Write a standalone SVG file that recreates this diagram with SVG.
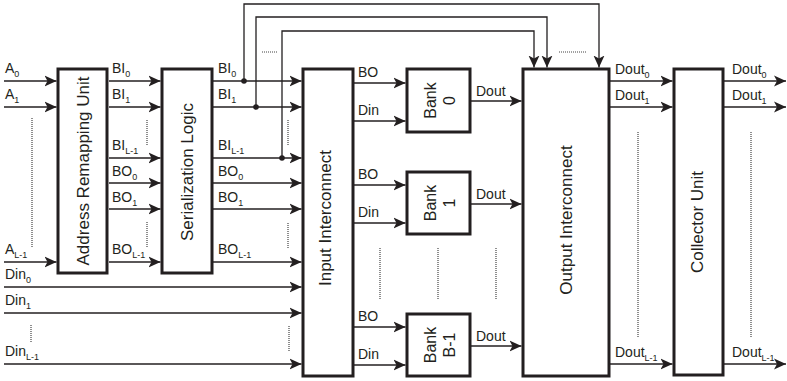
<svg xmlns="http://www.w3.org/2000/svg" width="787" height="381" viewBox="0 0 787 381">
<style>
  .box{fill:#fff;stroke:#231f20;stroke-width:3}
  .ln{fill:none;stroke:#231f20;stroke-width:1.6}
  .ar{fill:none;stroke:#231f20;stroke-width:1.6;marker-end:url(#ah)}
  .fb{fill:none;stroke:#231f20;stroke-width:1.3;marker-end:url(#ah)}
  .dot{fill:none;stroke:#444;stroke-width:1.2;stroke-dasharray:1 1}
  text{font-family:"Liberation Sans",Arial,sans-serif;fill:#231f20}
  .lb{font-size:14px}
  .sb{font-size:9px}
  .big{font-size:17px;text-anchor:middle}
  .bk{font-size:16px;text-anchor:middle}
</style>
<defs>
  <marker id="ah" markerWidth="12" markerHeight="12" refX="12" refY="6" orient="auto" markerUnits="userSpaceOnUse">
    <path d="M0,0.5 L12,6 L0,11.5 L3,6 z" fill="#231f20"/>
  </marker>
</defs>

<g id="connectors">
  <!-- inputs to ARU -->
  <line class="ar" x1="4" y1="81" x2="56.5" y2="81"/>
  <line class="ar" x1="4" y1="107" x2="56.5" y2="107"/>
  <line class="ar" x1="4" y1="262" x2="56.5" y2="262"/>
  <!-- ARU to SL -->
  <line class="ar" x1="109" y1="81" x2="160.5" y2="81"/>
  <line class="ar" x1="109" y1="107" x2="160.5" y2="107"/>
  <line class="ar" x1="109" y1="158" x2="160.5" y2="158"/>
  <line class="ar" x1="109" y1="183" x2="160.5" y2="183"/>
  <line class="ar" x1="109" y1="209" x2="160.5" y2="209"/>
  <line class="ar" x1="109" y1="262" x2="160.5" y2="262"/>
  <!-- SL to II -->
  <line class="ar" x1="213" y1="81" x2="301.5" y2="81"/>
  <line class="ar" x1="213" y1="107" x2="301.5" y2="107"/>
  <line class="ar" x1="213" y1="158" x2="301.5" y2="158"/>
  <line class="ar" x1="213" y1="183" x2="301.5" y2="183"/>
  <line class="ar" x1="213" y1="209" x2="301.5" y2="209"/>
  <line class="ar" x1="213" y1="262" x2="301.5" y2="262"/>
  <!-- Din to II -->
  <line class="ar" x1="4" y1="287" x2="301.5" y2="287"/>
  <line class="ar" x1="4" y1="313" x2="301.5" y2="313"/>
  <line class="ar" x1="4" y1="364" x2="301.5" y2="364"/>
  <!-- feedback -->
  <path class="fb" d="M244,81 V4 H599 V67.5"/>
  <path class="fb" d="M256,107 V17 H547 V67.5"/>
  <path class="fb" d="M282,158 V31 H534 V67.5"/>
  <circle cx="244" cy="81" r="2.8" fill="#231f20"/>
  <circle cx="256" cy="107" r="2.8" fill="#231f20"/>
  <circle cx="282" cy="158" r="2.8" fill="#231f20"/>
  <!-- II to banks -->
  <line class="ar" x1="354" y1="83" x2="405.5" y2="83"/>
  <line class="ar" x1="354" y1="121" x2="405.5" y2="121"/>
  <line class="ar" x1="354" y1="185" x2="405.5" y2="185"/>
  <line class="ar" x1="354" y1="223" x2="405.5" y2="223"/>
  <line class="ar" x1="354" y1="327" x2="405.5" y2="327"/>
  <line class="ar" x1="354" y1="365" x2="405.5" y2="365"/>
  <!-- banks to OI -->
  <line class="ar" x1="471" y1="101" x2="521.5" y2="101"/>
  <line class="ar" x1="471" y1="204" x2="521.5" y2="204"/>
  <line class="ar" x1="471" y1="346" x2="521.5" y2="346"/>
  <!-- OI to CU -->
  <line class="ar" x1="610" y1="81" x2="672.5" y2="81"/>
  <line class="ar" x1="610" y1="107" x2="672.5" y2="107"/>
  <line class="ar" x1="610" y1="364" x2="672.5" y2="364"/>
  <!-- CU outputs -->
  <line class="ar" x1="724" y1="81" x2="786" y2="81"/>
  <line class="ar" x1="724" y1="107" x2="786" y2="107"/>
  <line class="ar" x1="724" y1="364" x2="786" y2="364"/>
  <!-- dotted ellipsis lines -->
  <line class="dot" x1="32" y1="118" x2="32" y2="248"/>
  <line class="dot" x1="147" y1="120" x2="147" y2="145"/>
  <line class="dot" x1="147" y1="222" x2="147" y2="248"/>
  <line class="dot" x1="288" y1="120" x2="288" y2="145"/>
  <line class="dot" x1="288" y1="223" x2="288" y2="248"/>
  <line class="dot" x1="31" y1="325" x2="31" y2="343"/>
  <line class="dot" x1="289" y1="326" x2="289" y2="352"/>
  <line class="dot" x1="262" y1="52" x2="278" y2="52"/>
  <line class="dot" x1="559" y1="52" x2="586" y2="52"/>
  <line class="dot" x1="380" y1="248" x2="380" y2="300"/>
  <line class="dot" x1="438" y1="248" x2="438" y2="300"/>
  <line class="dot" x1="496" y1="248" x2="496" y2="300"/>
  <line class="dot" x1="638" y1="132" x2="638" y2="338"/>
  <line class="dot" x1="751" y1="132" x2="751" y2="338"/>
</g>

<g id="labels">
  <text class="lb" x="5" y="73">A<tspan class="sb" dy="4">0</tspan></text>
  <text class="lb" x="5" y="99">A<tspan class="sb" dy="4">1</tspan></text>
  <text class="lb" x="5" y="254">A<tspan class="sb" dy="4">L-1</tspan></text>
  <text class="lb" x="5" y="279">Din<tspan class="sb" dy="4">0</tspan></text>
  <text class="lb" x="5" y="305">Din<tspan class="sb" dy="4">1</tspan></text>
  <text class="lb" x="5" y="356">Din<tspan class="sb" dy="4">L-1</tspan></text>

  <text class="lb" x="112" y="73">BI<tspan class="sb" dy="4">0</tspan></text>
  <text class="lb" x="112" y="99">BI<tspan class="sb" dy="4">1</tspan></text>
  <text class="lb" x="112" y="150">BI<tspan class="sb" dy="4">L-1</tspan></text>
  <text class="lb" x="112" y="176">BO<tspan class="sb" dy="4">0</tspan></text>
  <text class="lb" x="112" y="202">BO<tspan class="sb" dy="4">1</tspan></text>
  <text class="lb" x="112" y="254">BO<tspan class="sb" dy="4">L-1</tspan></text>

  <text class="lb" x="218" y="73">BI<tspan class="sb" dy="4">0</tspan></text>
  <text class="lb" x="218" y="99">BI<tspan class="sb" dy="4">1</tspan></text>
  <text class="lb" x="218" y="150">BI<tspan class="sb" dy="4">L-1</tspan></text>
  <text class="lb" x="218" y="176">BO<tspan class="sb" dy="4">0</tspan></text>
  <text class="lb" x="218" y="202">BO<tspan class="sb" dy="4">1</tspan></text>
  <text class="lb" x="218" y="254">BO<tspan class="sb" dy="4">L-1</tspan></text>

  <text class="lb" x="358" y="77">BO</text>
  <text class="lb" x="358" y="115">Din</text>
  <text class="lb" x="358" y="179">BO</text>
  <text class="lb" x="358" y="217">Din</text>
  <text class="lb" x="358" y="321">BO</text>
  <text class="lb" x="358" y="359">Din</text>

  <text class="lb" x="476" y="96">Dout</text>
  <text class="lb" x="476" y="199">Dout</text>
  <text class="lb" x="476" y="341">Dout</text>

  <text class="lb" x="615" y="74">Dout<tspan class="sb" dy="4">0</tspan></text>
  <text class="lb" x="615" y="100">Dout<tspan class="sb" dy="4">1</tspan></text>
  <text class="lb" x="615" y="357">Dout<tspan class="sb" dy="4">L-1</tspan></text>
  <text class="lb" x="732" y="74">Dout<tspan class="sb" dy="4">0</tspan></text>
  <text class="lb" x="732" y="100">Dout<tspan class="sb" dy="4">1</tspan></text>
  <text class="lb" x="732" y="357">Dout<tspan class="sb" dy="4">L-1</tspan></text>
</g>

<g id="aru">
  <rect class="box" x="58" y="69" width="49" height="204"/>
  <text class="big" transform="translate(88.5,171) rotate(-90)">Address Remapping Unit</text>
</g>
<g id="sl">
  <rect class="box" x="162" y="69" width="50" height="204"/>
  <text class="big" transform="translate(193,172) rotate(-90)">Serialization Logic</text>
</g>
<g id="ii">
  <rect class="box" x="303" y="69" width="50" height="307"/>
  <text class="big" transform="translate(331,218) rotate(-90)">Input Interconnect</text>
</g>
<g id="bank0">
  <rect class="box" x="407" y="69" width="63" height="63"/>
  <text class="bk" transform="translate(436,100.5) rotate(-90)">Bank</text>
  <text class="bk" transform="translate(455,100.5) rotate(-90)">0</text>
</g>
<g id="bank1">
  <rect class="box" x="407" y="172" width="63" height="62"/>
  <text class="bk" transform="translate(436,203) rotate(-90)">Bank</text>
  <text class="bk" transform="translate(455,203) rotate(-90)">1</text>
</g>
<g id="bankb1">
  <rect class="box" x="407" y="314" width="63" height="62"/>
  <text class="bk" transform="translate(436,345) rotate(-90)">Bank</text>
  <text class="bk" transform="translate(455,345) rotate(-90)">B-1</text>
</g>
<g id="oi">
  <rect class="box" x="523" y="69" width="86" height="307"/>
  <text class="big" transform="translate(572,220) rotate(-90)">Output Interconnect</text>
</g>
<g id="cu">
  <rect class="box" x="674" y="69" width="49" height="306"/>
  <text class="big" transform="translate(703,222) rotate(-90)">Collector Unit</text>
</g>
</svg>
